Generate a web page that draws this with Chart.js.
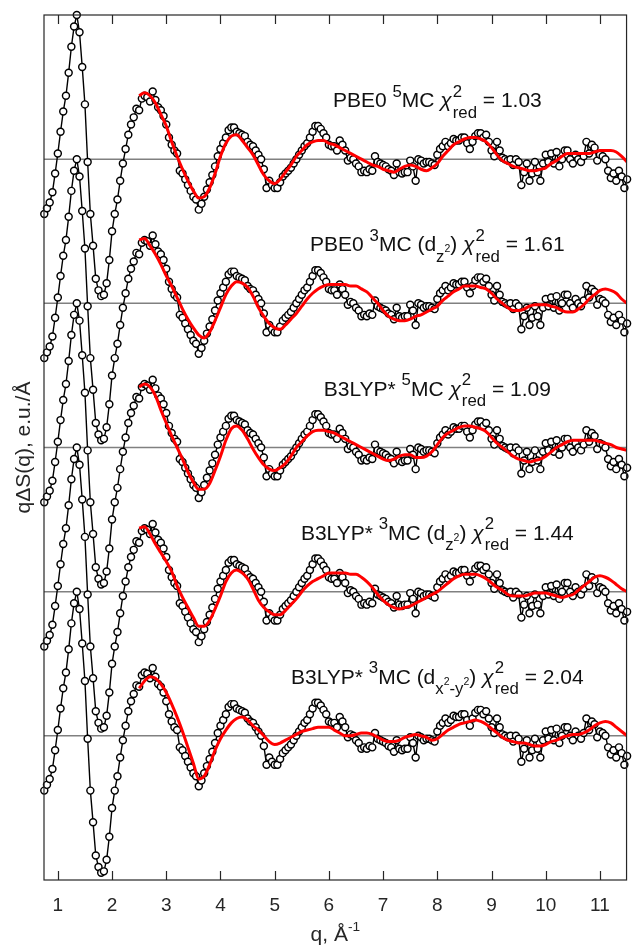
<!DOCTYPE html>
<html>
<head>
<meta charset="utf-8">
<script src="https://cdn.jsdelivr.net/npm/chart.js@4.4.1/dist/chart.umd.min.js"></script>
<style>
  html, body { margin: 0; padding: 0; background: #fff; }
  #wrap { width: 632px; height: 946px; }
</style>
</head>
<body>
<div id="wrap"><canvas id="scatteringChart" width="632" height="946"></canvas></div>
<script>
// q grid of the measured difference signal (1/Å)
const q = [
  0.75, 0.8, 0.85, 0.9, 0.95, 1, 1.05, 1.1, 1.15, 1.2,
  1.25, 1.3, 1.35, 1.4, 1.45, 1.5, 1.55, 1.6, 1.65, 1.7,
  1.75, 1.8, 1.85, 1.9, 1.95, 2, 2.05, 2.1, 2.15, 2.2,
  2.25, 2.3, 2.35, 2.4, 2.45, 2.5, 2.55, 2.6, 2.65, 2.7,
  2.75, 2.8, 2.85, 2.9, 2.95, 3, 3.05, 3.1, 3.15, 3.2,
  3.25, 3.3, 3.35, 3.4, 3.45, 3.5, 3.55, 3.6, 3.65, 3.7,
  3.75, 3.8, 3.85, 3.9, 3.95, 4, 4.05, 4.1, 4.15, 4.2,
  4.25, 4.3, 4.35, 4.4, 4.45, 4.5, 4.55, 4.6, 4.65, 4.7,
  4.75, 4.8, 4.85, 4.9, 4.95, 5, 5.05, 5.1, 5.15, 5.2,
  5.25, 5.3, 5.35, 5.4, 5.45, 5.5, 5.55, 5.6, 5.65, 5.7,
  5.75, 5.8, 5.85, 5.9, 5.95, 6, 6.05, 6.1, 6.15, 6.2,
  6.25, 6.3, 6.35, 6.4, 6.45, 6.5, 6.55, 6.6, 6.65, 6.7,
  6.75, 6.8, 6.85, 6.9, 6.95, 7, 7.05, 7.1, 7.15, 7.2,
  7.25, 7.3, 7.35, 7.4, 7.45, 7.5, 7.55, 7.6, 7.65, 7.7,
  7.75, 7.8, 7.85, 7.9, 7.95, 8, 8.05, 8.1, 8.15, 8.2,
  8.25, 8.3, 8.35, 8.4, 8.45, 8.5, 8.55, 8.6, 8.65, 8.7,
  8.75, 8.8, 8.85, 8.9, 8.95, 9, 9.05, 9.1, 9.15, 9.2,
  9.25, 9.3, 9.35, 9.4, 9.45, 9.5, 9.55, 9.6, 9.65, 9.7,
  9.75, 9.8, 9.85, 9.9, 9.95, 10, 10.05, 10.1, 10.15, 10.2,
  10.25, 10.3, 10.35, 10.4, 10.45, 10.5, 10.55, 10.6, 10.65, 10.7,
  10.75, 10.8, 10.85, 10.9, 10.95, 11, 11.05, 11.1, 11.15, 11.2,
  11.25, 11.3, 11.35, 11.4, 11.45, 11.5
];

// measured q*dS(q), same data under every model
const measured = [
  -0.38, -0.34, -0.30, -0.23, -0.10, 0.04, 0.19, 0.33, 0.44, 0.60,
  0.78, 0.92, 1.00, 0.88, 0.64, 0.38, -0.02, -0.38, -0.60, -0.83,
  -0.91, -0.95, -0.94, -0.86, -0.70, -0.50, -0.38, -0.28, -0.15, -0.03,
  0.07, 0.17, 0.24, 0.29, 0.35, 0.34, 0.42, 0.44, 0.43, 0.40,
  0.47, 0.41, 0.36, 0.34, 0.30, 0.24, 0.15, 0.10, 0.06, 0.04,
  -0.08, -0.10, -0.14, -0.18, -0.22, -0.26, -0.28, -0.35, -0.31, -0.26,
  -0.21, -0.16, -0.11, -0.05, 0.02, 0.07, 0.11, 0.15, 0.20, 0.22,
  0.22, 0.19, 0.18, 0.17, 0.16, 0.12, 0.10, 0.09, 0.06, 0.03,
  0.00, -0.07, -0.20, -0.15, -0.18, -0.20, -0.20, -0.16, -0.12, -0.10,
  -0.08, -0.06, -0.03, 0.00, 0.03, 0.06, 0.09, 0.11, 0.15, 0.19,
  0.23, 0.23, 0.21, 0.18, 0.15, 0.10, 0.09, 0.09, 0.06, 0.13,
  0.10, 0.06, -0.01, 0.01, 0.00, -0.03, -0.05, -0.09, -0.08, -0.09,
  -0.07, -0.08, 0.02, -0.02, -0.03, -0.04, -0.05, -0.07, -0.08, -0.11,
  -0.03, -0.09, -0.10, -0.09, -0.09, -0.01, -0.05, -0.15, 0.00, -0.01,
  -0.03, -0.02, -0.02, -0.03, -0.04, 0.03, 0.07, 0.09, 0.12, 0.09,
  0.11, 0.14, 0.13, 0.13, 0.15, 0.15, 0.11, 0.07, 0.12, 0.16,
  0.18, 0.18, 0.15, 0.17, 0.12, 0.06, 0.02, 0.12, 0.06, 0.01,
  0.00, -0.01, 0.00, -0.04, 0.00, -0.02, -0.18, -0.09, -0.03, -0.15,
  -0.10, -0.02, -0.09, -0.15, -0.03, 0.03, -0.02, 0.04, -0.03, 0.05,
  -0.05, 0.00, 0.06, 0.06, 0.00, -0.03, 0.03, 0.00, -0.02, 0.02,
  0.12, 0.04, 0.10, 0.08, -0.01, 0.03, 0.02, 0.00, -0.08, -0.13,
  -0.10, -0.15, -0.08, -0.12, -0.20, -0.14
];

// q grid of the model curves
const fitQ = [
  2.5, 2.6, 2.7, 2.8, 2.9, 3.0, 3.1, 3.2, 3.3, 3.4,
  3.5, 3.6, 3.7, 3.8, 3.9, 4.0, 4.1, 4.2, 4.3, 4.4,
  4.5, 4.6, 4.7, 4.8, 4.9, 5.0, 5.1, 5.2, 5.3, 5.4,
  5.5, 5.6, 5.7, 5.8, 5.9, 6.0, 6.1, 6.2, 6.3, 6.4,
  6.5, 6.6, 6.7, 6.8, 6.9, 7.0, 7.1, 7.2, 7.3, 7.4,
  7.5, 7.6, 7.7, 7.8, 7.9, 8.0, 8.1, 8.2, 8.3, 8.4,
  8.5, 8.6, 8.7, 8.8, 8.9, 9.0, 9.1, 9.2, 9.3, 9.4,
  9.5, 9.6, 9.7, 9.8, 9.9, 10.0, 10.1, 10.2, 10.3, 10.4,
  10.5, 10.6, 10.7, 10.8, 10.9, 11.0, 11.1, 11.2, 11.3, 11.4,
  11.5
];

const fitPbe5 = [
  0.44, 0.46, 0.44, 0.39, 0.31, 0.23, 0.12, 0.02, -0.07, -0.15,
  -0.22, -0.27, -0.26, -0.20, -0.10, 0.02, 0.11, 0.16, 0.17, 0.13,
  0.08, 0.03, -0.04, -0.11, -0.15, -0.17, -0.14, -0.09, -0.04, 0.02,
  0.06, 0.10, 0.12, 0.13, 0.13, 0.11, 0.10, 0.08, 0.06, 0.04,
  0.02, 0.00, -0.02, -0.04, -0.05, -0.07, -0.08, -0.09, -0.07, -0.05,
  -0.04, -0.05, -0.07, -0.08, -0.06, -0.03, 0.02, 0.06, 0.10, 0.12,
  0.14, 0.15, 0.15, 0.14, 0.12, 0.08, 0.03, -0.01, -0.03, -0.05,
  -0.06, -0.07, -0.08, -0.08, -0.07, -0.06, -0.03, -0.01, 0.02, 0.04,
  0.04, 0.04, 0.04, 0.04, 0.05, 0.06, 0.06, 0.06, 0.05, 0.02,
  -0.02
];
const fitPbe3z = [
  0.44, 0.45, 0.40, 0.34, 0.27, 0.19, 0.12, 0.04, -0.04, -0.11,
  -0.17, -0.22, -0.24, -0.20, -0.12, -0.03, 0.06, 0.12, 0.15, 0.14,
  0.11, 0.05, -0.03, -0.09, -0.14, -0.17, -0.18, -0.15, -0.11, -0.07,
  -0.02, 0.03, 0.07, 0.10, 0.12, 0.13, 0.13, 0.13, 0.13, 0.12,
  0.12, 0.10, 0.08, 0.04, 0.00, -0.05, -0.09, -0.11, -0.12, -0.12,
  -0.11, -0.09, -0.08, -0.06, -0.04, -0.02, 0.02, 0.05, 0.08, 0.10,
  0.12, 0.12, 0.12, 0.11, 0.10, 0.07, 0.03, 0.00, -0.03, -0.05,
  -0.05, -0.04, -0.02, -0.01, -0.01, -0.01, -0.02, -0.03, -0.05, -0.06,
  -0.06, -0.04, -0.01, 0.03, 0.06, 0.09, 0.10, 0.09, 0.07, 0.03,
  0.00
];
const fitB3lyp5 = [
  0.42, 0.44, 0.42, 0.36, 0.26, 0.17, 0.08, 0.00, -0.08, -0.17,
  -0.24, -0.29, -0.29, -0.25, -0.16, -0.06, 0.05, 0.13, 0.15, 0.12,
  0.06, -0.01, -0.07, -0.12, -0.15, -0.16, -0.14, -0.11, -0.06, 0.00,
  0.04, 0.08, 0.11, 0.12, 0.12, 0.11, 0.10, 0.08, 0.06, 0.04,
  0.02, 0.00, -0.02, -0.04, -0.06, -0.08, -0.09, -0.08, -0.06, -0.05,
  -0.05, -0.07, -0.07, -0.06, -0.03, 0.02, 0.07, 0.10, 0.12, 0.14,
  0.15, 0.15, 0.14, 0.13, 0.11, 0.07, 0.03, 0.00, -0.03, -0.06,
  -0.08, -0.09, -0.10, -0.09, -0.08, -0.06, -0.03, 0.00, 0.02, 0.04,
  0.05, 0.05, 0.05, 0.05, 0.05, 0.04, 0.03, 0.02, 0.00, -0.01,
  -0.02
];
const fitB3lyp3z = [
  0.44, 0.45, 0.40, 0.33, 0.27, 0.21, 0.14, 0.04, -0.04, -0.11,
  -0.18, -0.24, -0.24, -0.20, -0.12, -0.03, 0.07, 0.13, 0.15, 0.13,
  0.09, 0.02, -0.06, -0.11, -0.14, -0.16, -0.16, -0.13, -0.09, -0.05,
  0.00, 0.04, 0.07, 0.09, 0.11, 0.13, 0.13, 0.13, 0.13, 0.12,
  0.12, 0.10, 0.07, 0.03, -0.02, -0.06, -0.09, -0.11, -0.12, -0.11,
  -0.10, -0.08, -0.06, -0.04, -0.02, 0.00, 0.03, 0.06, 0.09, 0.11,
  0.12, 0.12, 0.12, 0.11, 0.09, 0.06, 0.03, 0.01, -0.02, -0.03,
  -0.03, -0.03, -0.02, -0.01, -0.01, -0.01, -0.02, -0.03, -0.04, -0.03,
  -0.02, 0.01, 0.04, 0.07, 0.10, 0.11, 0.10, 0.08, 0.05, 0.02,
  0.00
];
const fitB3lyp3xy = [
  0.33, 0.38, 0.41, 0.40, 0.36, 0.30, 0.22, 0.13, 0.03, -0.08,
  -0.19, -0.30, -0.28, -0.20, -0.10, -0.02, 0.04, 0.09, 0.12, 0.13,
  0.11, 0.07, 0.04, 0.00, -0.04, -0.06, -0.05, -0.03, -0.01, 0.01,
  0.03, 0.04, 0.05, 0.06, 0.06, 0.06, 0.04, 0.02, 0.00, 0.00,
  0.01, 0.02, 0.02, 0.01, -0.01, -0.03, -0.04, -0.04, -0.03, -0.01,
  0.00, 0.01, 0.00, -0.01, -0.03, -0.02, 0.01, 0.04, 0.06, 0.08,
  0.09, 0.10, 0.11, 0.10, 0.08, 0.05, 0.02, -0.01, -0.03, -0.04,
  -0.05, -0.05, -0.06, -0.07, -0.07, -0.06, -0.04, -0.03, -0.01, 0.00,
  0.01, 0.01, 0.02, 0.04, 0.07, 0.09, 0.10, 0.09, 0.06, 0.03,
  0.00
];

const fits = [fitPbe5, fitPbe3z, fitB3lyp5, fitB3lyp3z, fitB3lyp3xy];
const offsets = [4, 3, 2, 1, 0];       // vertical shift of each panel
const xTicks = [1, 2, 3, 4, 5, 6, 7, 8, 9, 10, 11];

// label text: [text, kind]; kinds: sup, sub, ssup (superscript on a subscript)
const models = [
  [['PBE0 '], ['5', 'sup'], ['MC ']],
  [['PBE0 '], ['3', 'sup'], ['MC (d'], ['z', 'sub'], ['2', 'ssup'], [') ']],
  [['B3LYP* '], ['5', 'sup'], ['MC ']],
  [['B3LYP* '], ['3', 'sup'], ['MC (d'], ['z', 'sub'], ['2', 'ssup'], [') ']],
  [['B3LYP* '], ['3', 'sup'], ['MC (d'], ['x', 'sub'], ['2', 'ssup'], ['-y', 'sub'], ['2', 'ssup'], [') ']]
];
const chiRed = ['1.03', '1.61', '1.09', '1.44', '2.04'];

const qMin = 0.745, qMax = 11.49;
const FAMILY = '"Liberation Sans", Arial, Helvetica, sans-serif';
const S = 21;

function fnt(px, italic) {
  return (italic ? 'italic ' : '') + px + 'px ' + FAMILY;
}

function runStyle(kind) {
  if (kind === 'sup') return { size: S * 0.8, dy: -S * 0.5 };
  if (kind === 'sub') return { size: S * 0.8, dy: S * 0.5 };
  if (kind === 'ssup') return { size: S * 0.5, dy: S * 0.05 };
  return { size: S, dy: 0 };
}

function runWidth(ctx, r) {
  if (r[1] === 'chi') {
    ctx.font = fnt(S, true);
    const w0 = ctx.measureText('\u03c7').width;
    ctx.font = fnt(S * 0.8);
    return w0 + 1 + Math.max(ctx.measureText('2').width, ctx.measureText('red').width);
  }
  const st = runStyle(r[1]);
  ctx.font = fnt(st.size);
  return ctx.measureText(r[0]).width;
}

function drawRuns(ctx, runs, cx, baseY) {
  const total = runs.reduce((s, r) => s + runWidth(ctx, r), 0);
  let x = cx - total / 2;
  ctx.textAlign = 'left';
  ctx.textBaseline = 'alphabetic';
  runs.forEach(r => {
    if (r[1] === 'chi') {
      ctx.font = fnt(S, true);
      ctx.fillText('\u03c7', x, baseY);
      const x2 = x + ctx.measureText('\u03c7').width + 1;
      ctx.font = fnt(S * 0.8);
      ctx.fillText('2', x2, baseY - S * 0.5);
      ctx.fillText('red', x2, baseY + S * 0.5);
    } else {
      const st = runStyle(r[1]);
      ctx.font = fnt(st.size);
      ctx.fillText(r[0], x, baseY + st.dy);
    }
    x += runWidth(ctx, r);
  });
}

// frame, inward ticks, panel labels and axis titles
const annotations = {
  id: 'annotations',
  afterDraw(chart) {
    const { ctx, chartArea: a, scales: { x, y } } = chart;
    ctx.save();
    ctx.strokeStyle = '#262626';
    ctx.lineWidth = 1.2;
    ctx.strokeRect(a.left, a.top, a.right - a.left, a.bottom - a.top);
    ctx.beginPath();
    xTicks.forEach(v => {
      const px = Math.round(x.getPixelForValue(v)) + 0.5;
      ctx.moveTo(px, a.bottom); ctx.lineTo(px, a.bottom - 9);
      ctx.moveTo(px, a.top); ctx.lineTo(px, a.top + 9);
    });
    ctx.stroke();

    ctx.fillStyle = '#111';
    models.forEach((m, i) => {
      const runs = m.concat([['\u03c7', 'chi'], [' = ' + chiRed[i]]]);
      drawRuns(ctx, runs, x.getPixelForValue(8.0), y.getPixelForValue(offsets[i] + 0.36));
    });

    // x title: q, Å^-1
    ctx.fillStyle = '#262626';
    ctx.font = fnt(S);
    const wMain = ctx.measureText('q, \u00c5').width;
    ctx.font = fnt(S * 0.65);
    const wSup = ctx.measureText('-1').width;
    let tx = (a.left + a.right) / 2 - (wMain + wSup) / 2;
    ctx.textAlign = 'left';
    ctx.textBaseline = 'alphabetic';
    ctx.font = fnt(S);
    ctx.fillText('q, \u00c5', tx, 941);
    ctx.font = fnt(S * 0.65);
    ctx.fillText('-1', tx + wMain, 941 - S * 0.5);

    // y title
    ctx.translate(30, (a.top + a.bottom) / 2);
    ctx.rotate(-Math.PI / 2);
    ctx.font = fnt(S);
    ctx.textAlign = 'center';
    ctx.fillText('q\u0394S(q), e.u./\u00c5', 0, 0);
    ctx.restore();
  }
};

const datasets = [];
offsets.forEach((off, i) => {
  datasets.push({
    data: fitQ.map((v, j) => ({ x: v, y: fits[i][j] + off })),
    borderColor: '#ff0000',
    borderWidth: 3,
    pointRadius: 0,
    cubicInterpolationMode: 'monotone',
    order: 0
  });
  datasets.push({
    data: q.map((v, j) => ({ x: v, y: measured[j] + off })),
    borderColor: '#000',
    borderWidth: 1.4,
    pointRadius: 3.5,
    pointBorderWidth: 1.45,
    pointBackgroundColor: '#fff',
    pointBorderColor: '#000',
    clip: false,
    order: 1
  });
  datasets.push({
    data: [{ x: qMin, y: off }, { x: qMax, y: off }],
    borderColor: '#808080',
    borderWidth: 1.5,
    pointRadius: 0,
    order: 2
  });
});

new Chart(document.getElementById('scatteringChart'), {
  type: 'line',
  data: { datasets },
  plugins: [annotations],
  options: {
    responsive: false,
    animation: false,
    devicePixelRatio: 1,
    events: [],
    layout: { padding: { left: 44, top: 15, right: 1, bottom: 0 } },
    plugins: { legend: { display: false }, tooltip: { enabled: false } },
    scales: {
      x: {
        type: 'linear',
        min: qMin,
        max: qMax,
        grid: { display: false, drawTicks: false },
        border: { display: false },
        afterBuildTicks: s => { s.ticks = xTicks.map(v => ({ value: v })); },
        afterFit: s => { s.height = 66; },
        ticks: {
          color: '#262626',
          font: { family: FAMILY, size: 19 },
          padding: 14,
          maxRotation: 0,
          autoSkip: false
        }
      },
      y: { type: 'linear', min: -1, max: 5, display: false }
    }
  }
});
</script>
</body>
</html>
